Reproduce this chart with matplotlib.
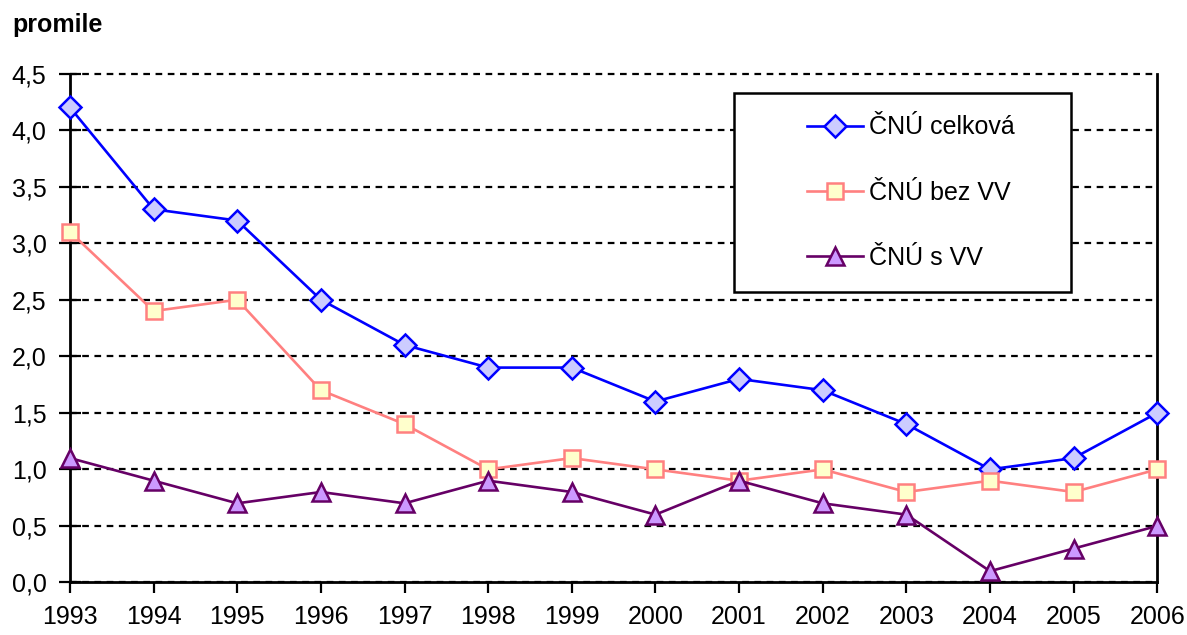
import matplotlib
matplotlib.use("Agg")
import matplotlib.pyplot as plt
from matplotlib.patches import Rectangle
from matplotlib.ticker import FuncFormatter

years = [1993, 1994, 1995, 1996, 1997, 1998, 1999, 2000, 2001, 2002, 2003, 2004, 2005, 2006]
celkova = [4.2, 3.3, 3.2, 2.5, 2.1, 1.9, 1.9, 1.6, 1.8, 1.7, 1.4, 1.0, 1.1, 1.5]
bez_vv = [3.1, 2.4, 2.5, 1.7, 1.4, 1.0, 1.1, 1.0, 0.9, 1.0, 0.8, 0.9, 0.8, 1.0]
s_vv = [1.1, 0.9, 0.7, 0.8, 0.7, 0.9, 0.8, 0.6, 0.9, 0.7, 0.6, 0.1, 0.3, 0.5]
labels = ["ČNÚ celková", "ČNÚ bez VV", "ČNÚ s VV"]
yticks = [0.0, 0.5, 1.0, 1.5, 2.0, 2.5, 3.0, 3.5, 4.0, 4.5]

plt.rcParams['font.family'] = ['Liberation Sans', 'DejaVu Sans']

FS = 18

fig = plt.figure(figsize=(11.87, 6.35), dpi=100)
ax = fig.add_axes([0.05897, 0.0827, 0.916, 0.8015])

l1, = ax.plot(years, celkova, color='#0000FF', lw=1.9, marker='D', markersize=11.5,
              markerfacecolor='#CCCCFF', markeredgecolor='#0000FF', markeredgewidth=1.8,
              clip_on=False, zorder=5)
l2, = ax.plot(years, bez_vv, color='#FF8080', lw=1.9, marker='s', markersize=12,
              markerfacecolor='#FFFFCC', markeredgecolor='#FF8080', markeredgewidth=1.8,
              clip_on=False, zorder=5)
l3, = ax.plot(years, s_vv, color='#660066', lw=1.9, marker='^', markersize=12.5,
              markerfacecolor='#CC99FF', markeredgecolor='#660066', markeredgewidth=1.8,
              clip_on=False, zorder=5)

ax.set_xlim(years[0], years[-1])
ax.set_ylim(0, 4.5)
ax.set_xticks(years)
ax.set_xticklabels([str(y) for y in years])
ax.set_yticks(yticks)
ax.yaxis.set_major_formatter(FuncFormatter(lambda v, p: f"{v:.1f}".replace('.', ',')))

ax.tick_params(axis='both', labelsize=FS, colors='black', width=1.6)
ax.tick_params(axis='y', direction='inout', length=16, pad=9)
ax.tick_params(axis='x', direction='out', length=8, pad=8)

for s in ['left', 'right', 'bottom']:
    ax.spines[s].set_linewidth(2)
    ax.spines[s].set_color('black')
ax.spines['top'].set_visible(False)

ax.yaxis.grid(True, color='black', linestyle=(0, (3, 2.5)), linewidth=1.6)
for gl in ax.get_ygridlines():
    gl.set_clip_on(False)
ax.set_axisbelow(True)

# legend frame
ax.add_patch(Rectangle((0.611, 0.57), 0.31, 0.392, transform=ax.transAxes,
                       facecolor='white', edgecolor='black', linewidth=1.8, zorder=6))
leg = ax.legend([l1, l2, l3], labels, loc='upper left', bbox_to_anchor=(0.678, 0.918),
                frameon=False, fontsize=FS, labelspacing=1.65, handlelength=2.24,
                handletextpad=0.24, borderpad=0, borderaxespad=0, numpoints=1)
leg.set_zorder(7)

fig.text(12 / 1187, 1 - 25 / 635, "promile", fontsize=FS, fontweight='bold',
         va='center', ha='left')

fig.savefig("out.png", dpi=100)
